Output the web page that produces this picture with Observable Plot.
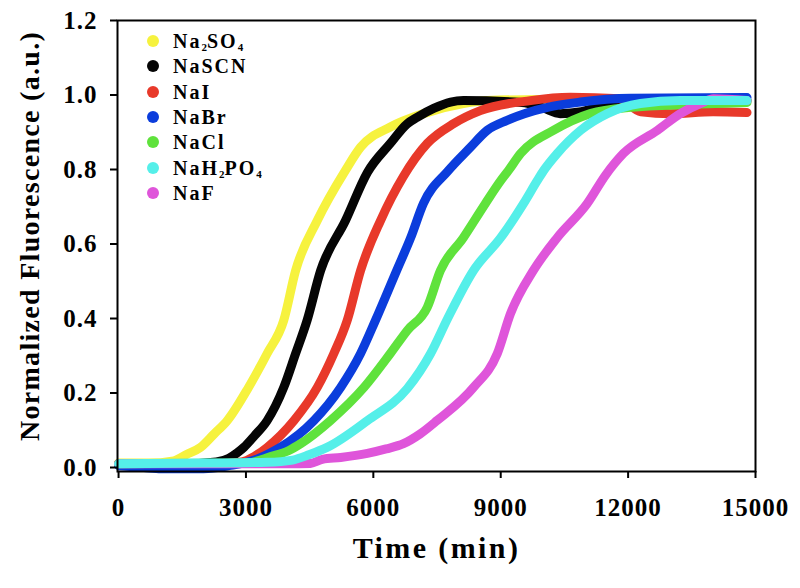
<!DOCTYPE html>
<html>
<head>
<meta charset="utf-8">
<script src="https://cdn.jsdelivr.net/npm/d3@7"></script>
<script src="https://cdn.jsdelivr.net/npm/@observablehq/plot@0.6"></script>
<style>
  html, body { margin: 0; padding: 0; background: white; }
  #wrap { position: relative; width: 800px; height: 588px; }
  #legend { position: absolute; left: 0; top: 0; font-family: "Liberation Serif", "Times New Roman", serif; font-weight: bold; font-size: 20px; letter-spacing: 2px; color: #000; }
  .row { position: absolute; left: 147px; height: 24px; line-height: 24px; white-space: nowrap; }
  .dot { position: absolute; left: 0; top: 6px; width: 12px; height: 12px; border-radius: 50%; }
  .lab { position: absolute; left: 26px; top: 0; }
  .lab sub { font-size: 11px; vertical-align: -3px; letter-spacing: 0; }
</style>
</head>
<body>
<div id="wrap"><div id="legend"></div></div>
<script>
// ---- data ----
const salts = ["Na2SO4", "NaSCN", "NaI", "NaBr", "NaCl", "NaH2PO4", "NaF"];
const saltLabels = ["Na<sub>2</sub>SO<sub>4</sub>", "NaSCN", "NaI", "NaBr", "NaCl", "NaH<sub>2</sub>PO<sub>4</sub>", "NaF"];
const saltColors = ["#f6f23e", "#050505", "#e8392a", "#0b3ddc", "#5fe23c", "#55efe9", "#df55da"];
const drawOrder = ["Na2SO4", "NaSCN", "NaI", "NaBr", "NaCl", "NaF", "NaH2PO4"];

const xTicks = [0, 3000, 6000, 9000, 12000, 15000];
const yTicks = [0, 0.2, 0.4, 0.6, 0.8, 1.0, 1.2];

// [time (min), normalized fluorescence]
const na2so4 = [[0,0.012],[700,0.012],[1300,0.018],[1600,0.035],[1930,0.054],[2250,0.09],[2560,0.126],[3060,0.215],[3500,0.306],[3890,0.395],[4170,0.529],[4680,0.663],[5340,0.797],[5700,0.86],[6400,0.914],[7180,0.95],[8120,0.977],[8690,0.985],[10000,0.988],[12000,0.988],[14800,0.985]];
const nascn = [[0,0.01],[1500,0.01],[2300,0.015],[2600,0.025],[2800,0.04],[2950,0.054],[3200,0.085],[3500,0.126],[3890,0.215],[4170,0.306],[4440,0.395],[4760,0.529],[5345,0.663],[5860,0.792],[6400,0.87],[6800,0.923],[7030,0.94],[7420,0.964],[7820,0.981],[8120,0.985],[9500,0.98],[10000,0.965],[10400,0.95],[10900,0.955],[11500,0.975],[12500,0.985],[14800,0.985]];
const nai = [[0,0.008],[2000,0.008],[2900,0.015],[3200,0.03],[3500,0.054],[4130,0.126],[4680,0.215],[5070,0.306],[5385,0.395],[5700,0.529],[6170,0.663],[6700,0.78],[7270,0.87],[7890,0.923],[8520,0.958],[9700,0.985],[10640,0.994],[11800,0.99],[12300,0.955],[13000,0.95],[14000,0.955],[14800,0.953]];
const nabr = [[0,0.005],[600,0.0],[1000,-0.003],[2000,-0.003],[2600,0.005],[3200,0.02],[3500,0.035],[3810,0.054],[4600,0.126],[5230,0.215],[5700,0.306],[6050,0.395],[6550,0.529],[6880,0.617],[7180,0.709],[7750,0.795],[8290,0.86],[8680,0.905],[9150,0.932],[10100,0.967],[10880,0.981],[12060,0.991],[14800,0.993]];
const nacl = [[0,0.01],[3000,0.012],[3600,0.03],[4000,0.045],[4290,0.064],[4990,0.126],[5780,0.215],[6400,0.306],[6800,0.368],[7270,0.43],[7580,0.529],[8120,0.617],[8640,0.709],[9000,0.77],[9180,0.797],[9470,0.843],[10240,0.905],[11110,0.95],[12060,0.967],[13500,0.975],[14800,0.98]];
const nah2po4 = [[0,0.01],[2000,0.012],[3500,0.014],[4100,0.02],[4500,0.035],[4910,0.054],[5860,0.126],[6800,0.212],[7350,0.306],[7750,0.4],[8360,0.529],[9000,0.617],[9540,0.709],[9860,0.77],[10010,0.797],[10330,0.843],[10880,0.905],[11510,0.95],[12290,0.977],[13230,0.985],[14800,0.985]];
const naf = [[0,0.01],[4000,0.01],[4520,0.011],[4800,0.022],[5230,0.027],[5860,0.038],[6300,0.05],[6710,0.064],[7100,0.09],[7500,0.126],[8360,0.215],[8920,0.306],[9230,0.413],[9770,0.529],[10330,0.617],[11040,0.709],[11470,0.785],[11890,0.843],[12690,0.905],[13230,0.95],[13700,0.977],[14010,0.99],[14800,0.985]];

const xTitle = "Time (min)";
const yTitle = "Normalized Fluorescence (a.u.)";

// ---- build table ----
const seriesBySalt = {Na2SO4: na2so4, NaSCN: nascn, NaI: nai, NaBr: nabr, NaCl: nacl, NaH2PO4: nah2po4, NaF: naf};
const rows = [];
for (const s of drawOrder) for (const [t, v] of seriesBySalt[s]) rows.push({salt: s, t, v});

const chart = Plot.plot({
  width: 800,
  height: 588,
  marginLeft: 117,
  marginRight: 45,
  marginTop: 20,
  marginBottom: 117,
  x: {domain: [-25, 15000]},
  y: {domain: [-0.0107, 1.2]},
  color: {domain: salts, range: saltColors},
  style: {fontFamily: "'Liberation Serif', 'Times New Roman', serif", fontWeight: "bold", fontSize: "25px", letterSpacing: "1px", color: "black", background: "white"},
  marks: [
    Plot.line(rows, {x: "t", y: "v", z: "salt", stroke: "salt", strokeWidth: 9, strokeLinecap: "round", strokeLinejoin: "round", curve: "monotone-x"}),
    Plot.frame({stroke: "black", strokeWidth: 2}),
    Plot.axisX({ticks: xTicks, tickSize: 7, tickPadding: 20, tickFormat: d => String(d), label: null, strokeWidth: 2, fontSize: 25}),
    Plot.axisY({ticks: yTicks, tickSize: 7, tickPadding: 13, tickFormat: d3.format(".1f"), label: null, strokeWidth: 2, fontSize: 25}),
    Plot.text([xTitle], {text: d => d, frameAnchor: "bottom", dy: 86, fontSize: 30}),
    Plot.text([yTitle], {text: d => d, frameAnchor: "left", textAnchor: "middle", dx: -87, dy: -10, rotate: -90, fontSize: 28})
  ]
});
document.getElementById("wrap").prepend(chart);

// title letter spacing (the reference glyphs are slightly stretched)
d3.select(chart).selectAll("text").each(function() {
  const t = this.textContent;
  if (t === xTitle) this.style.letterSpacing = "2.4px";
  if (t === yTitle) this.style.letterSpacing = "1.3px";
});

// ---- legend ----
const legend = document.getElementById("legend");
const rowY = [41, 66.3, 91.6, 117, 142.3, 167.6, 193];
salts.forEach((s, i) => {
  const r = document.createElement("div");
  r.className = "row";
  r.style.top = (rowY[i] - 12) + "px";
  r.innerHTML = `<span class="dot" style="background:${saltColors[i]}"></span><span class="lab">${saltLabels[i]}</span>`;
  legend.appendChild(r);
});
</script>
</body>
</html>
